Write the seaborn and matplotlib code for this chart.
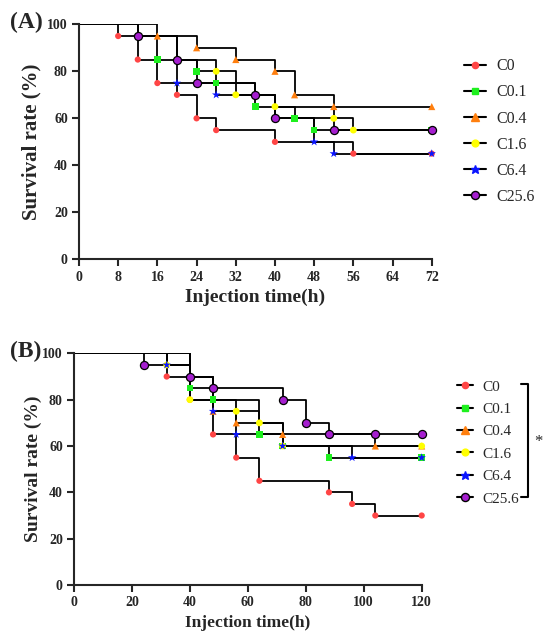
import matplotlib
matplotlib.use("Agg")
import matplotlib.pyplot as plt
from matplotlib.lines import Line2D
import pandas as pd
import seaborn as sns

groups = ["C0", "C0.1", "C0.4", "C1.6", "C6.4", "C25.6"]

# panel A (72 h)
a_time = {
    "C0": [0, 8, 12, 16, 20, 24, 28, 40, 56, 72],
    "C0.1": [0, 12, 16, 24, 28, 36, 44, 48, 72],
    "C0.4": [0, 16, 24, 32, 40, 44, 52, 72],
    "C1.6": [0, 12, 20, 28, 32, 40, 52, 56, 72],
    "C6.4": [0, 12, 20, 28, 40, 48, 52, 72],
    "C25.6": [0, 12, 20, 24, 36, 40, 52, 72],
}
a_surv = {
    "C0": [100, 95, 85, 75, 70, 60, 55, 50, 45, 45],
    "C0.1": [100, 95, 85, 80, 75, 65, 60, 55, 55],
    "C0.4": [100, 95, 90, 85, 80, 70, 65, 65],
    "C1.6": [100, 95, 85, 80, 70, 65, 60, 55, 55],
    "C6.4": [100, 95, 75, 70, 60, 50, 45, 45],
    "C25.6": [100, 95, 85, 75, 70, 60, 55, 55],
}

# panel B (120 h)
b_time = {
    "C0": [0, 32, 40, 48, 56, 64, 88, 96, 104, 120],
    "C0.1": [0, 40, 48, 64, 72, 88, 120],
    "C0.4": [0, 40, 48, 56, 72, 104, 120],
    "C1.6": [0, 32, 40, 56, 64, 72, 120],
    "C6.4": [0, 32, 40, 48, 56, 72, 96, 120],
    "C25.6": [0, 24, 40, 48, 72, 80, 88, 104, 120],
}
b_surv = {
    "C0": [100, 90, 80, 65, 55, 45, 40, 35, 30, 30],
    "C0.1": [100, 85, 80, 65, 60, 55, 55],
    "C0.4": [100, 90, 75, 70, 65, 60, 60],
    "C1.6": [100, 95, 80, 75, 70, 60, 60],
    "C6.4": [100, 95, 90, 75, 65, 60, 55, 55],
    "C25.6": [100, 95, 90, 85, 80, 70, 65, 65, 65],
}

a_xticks = [0, 8, 16, 24, 32, 40, 48, 56, 64, 72]
b_xticks = [0, 20, 40, 60, 80, 100, 120]
yticks = [0, 20, 40, 60, 80, 100]

style = {
    "C0": dict(marker="o", color="#FF4545", edge="none", s=20),
    "C0.1": dict(marker="s", color="#1EF01E", edge="none", s=22),
    "C0.4": dict(marker="^", color="#FF7F0E", edge="none", s=26),
    "C1.6": dict(marker="o", color="#FFFF00", edge="none", s=24),
    "C6.4": dict(marker="*", color="#0A14FF", edge="none", s=40),
    "C25.6": dict(marker="o", color="#A51ECF", edge="black", s=34),
}

sns.set_style("ticks")
plt.rcParams["font.family"] = ["Liberation Serif", "DejaVu Serif"]


def to_frame(times, survs):
    rows = []
    for g in groups:
        for t, s in zip(times[g], survs[g]):
            rows.append({"group": g, "time": t, "surv": s})
    return pd.DataFrame(rows)


def draw_panel(ax, df, xmax, xticks, xlab_size, ylab_size, ypad):
    for g in groups:
        d = df[df["group"] == g]
        sns.lineplot(data=d, x="time", y="surv", ax=ax, color="black", lw=1.3,
                     drawstyle="steps-post", estimator=None, sort=False,
                     legend=False, zorder=2)
    for g in groups:
        d = df[(df["group"] == g) & (df["time"] > 0)]
        st = style[g]
        sns.scatterplot(data=d, x="time", y="surv", ax=ax, marker=st["marker"],
                        color=st["color"], edgecolor=st["edge"], linewidth=0.9,
                        s=st["s"], legend=False, zorder=3, clip_on=False)
    ax.set_xlim(0, xmax)
    ax.set_ylim(0, 100)
    ax.set_xticks(xticks)
    ax.set_yticks(yticks)
    ax.set_xlabel("Injection time(h)", fontsize=xlab_size, fontweight="bold", labelpad=4)
    ax.set_ylabel("Survival rate (%)", fontsize=ylab_size, fontweight="bold", labelpad=ypad)
    for sp in ["top", "right"]:
        ax.spines[sp].set_visible(False)
    for sp in ["left", "bottom"]:
        ax.spines[sp].set_linewidth(1.5)
    ax.tick_params(width=1.5, length=5, labelsize=10, pad=3)
    for lb in ax.get_xticklabels() + ax.get_yticklabels():
        lb.set_fontweight("bold")


def legend_handles():
    hs = []
    for g in groups:
        st = style[g]
        hs.append(Line2D([0], [0], color="black", lw=1.5, marker=st["marker"],
                         markerfacecolor=st["color"],
                         markeredgecolor=st["color"] if st["edge"] == "none" else "black",
                         markersize=(st["s"] ** 0.5), label=g))
    return hs


fig = plt.figure(figsize=(5.5, 6.39), dpi=100)
ax_a = fig.add_axes([0.1436, 0.594, 0.6414, 0.368])
ax_b = fig.add_axes([0.1345, 0.0845, 0.6322, 0.3625])

draw_panel(ax_a, to_frame(a_time, a_surv), 72, a_xticks, 14, 15, 4)
draw_panel(ax_b, to_frame(b_time, b_surv), 120, b_xticks, 12.5, 14, 0)

ax_a.legend(handles=legend_handles(), loc="upper left", bbox_to_anchor=(1.051, 0.916),
            frameon=False, fontsize=11.5, handlelength=1.4, handletextpad=0.6,
            labelspacing=0.63)
ax_b.legend(handles=legend_handles(), loc="upper left", bbox_to_anchor=(1.061, 0.945),
            frameon=False, fontsize=11, handlelength=1.1, handletextpad=0.6,
            labelspacing=0.57)

# significance bracket in panel B
fig.add_artist(Line2D([521 / 550, 528 / 550, 528 / 550, 521 / 550],
                      [1 - 384 / 639, 1 - 384 / 639, 1 - 497 / 639, 1 - 497 / 639],
                      color="black", lw=1.5))
fig.text(538 / 550, 1 - 442 / 639, "*", fontsize=12, ha="center", va="center")

fig.text(10 / 550, 1 - 22 / 639, "(A)", fontsize=17, fontweight="bold", va="center")
fig.text(10 / 550, 1 - 351 / 639, "(B)", fontsize=17, fontweight="bold", va="center")

fig.savefig("out.png", dpi=100, facecolor="white")
